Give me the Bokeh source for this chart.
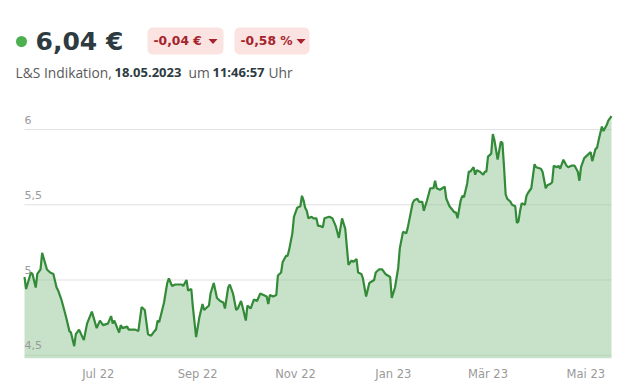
import pandas as pd
from bokeh.plotting import figure
from bokeh.layouts import column
from bokeh.models import ColumnDataSource, Range1d, FixedTicker
from bokeh.core.properties import value
from bokeh.embed import file_html
from bokeh.resources import INLINE

# ---------------- data ----------------
dates = [
    "2022-05-16", "2022-05-17", "2022-05-20", "2022-05-21", "2022-05-23", "2022-05-24", "2022-05-26", "2022-05-27", "2022-05-30",
    "2022-06-01", "2022-06-03", "2022-06-05", "2022-06-06", "2022-06-08", "2022-06-11", "2022-06-13", "2022-06-14", "2022-06-16",
    "2022-06-17", "2022-06-19", "2022-06-22", "2022-06-24", "2022-06-27", "2022-06-30",
    "2022-07-02", "2022-07-04", "2022-07-07", "2022-07-09", "2022-07-10", "2022-07-11", "2022-07-14", "2022-07-15", "2022-07-16",
    "2022-07-19", "2022-07-20", "2022-07-22", "2022-07-24", "2022-07-26", "2022-07-28", "2022-07-30",
    "2022-08-01", "2022-08-03", "2022-08-05", "2022-08-06", "2022-08-07", "2022-08-08", "2022-08-11", "2022-08-13", "2022-08-14",
    "2022-08-16", "2022-08-18", "2022-08-20", "2022-08-22", "2022-08-23", "2022-08-25", "2022-08-26", "2022-08-28", "2022-08-29",
    "2022-08-31",
    "2022-09-02", "2022-09-04", "2022-09-05", "2022-09-08", "2022-09-09", "2022-09-11", "2022-09-13", "2022-09-15", "2022-09-17",
    "2022-09-18", "2022-09-20", "2022-09-21", "2022-09-23", "2022-09-25", "2022-09-26", "2022-09-28", "2022-09-29",
    "2022-10-01", "2022-10-02", "2022-10-04", "2022-10-06", "2022-10-08", "2022-10-10", "2022-10-12", "2022-10-14", "2022-10-15",
    "2022-10-16", "2022-10-18", "2022-10-20", "2022-10-21", "2022-10-23", "2022-10-24", "2022-10-26", "2022-10-27", "2022-10-28",
    "2022-10-30", "2022-10-31",
    "2022-11-02", "2022-11-04", "2022-11-05", "2022-11-06", "2022-11-07", "2022-11-08", "2022-11-09", "2022-11-11", "2022-11-12",
    "2022-11-14", "2022-11-15", "2022-11-16", "2022-11-18", "2022-11-19", "2022-11-22", "2022-11-24", "2022-11-26", "2022-11-28",
    "2022-11-30",
    "2022-12-02", "2022-12-04", "2022-12-06", "2022-12-07", "2022-12-09", "2022-12-10", "2022-12-12", "2022-12-13", "2022-12-15",
    "2022-12-17", "2022-12-20", "2022-12-21", "2022-12-23", "2022-12-25", "2022-12-27", "2022-12-30", "2022-12-31",
    "2023-01-02", "2023-01-04", "2023-01-05", "2023-01-07", "2023-01-09", "2023-01-10", "2023-01-13", "2023-01-14", "2023-01-16",
    "2023-01-17", "2023-01-19", "2023-01-20", "2023-01-22", "2023-01-24", "2023-01-26", "2023-01-27", "2023-01-28", "2023-01-30",
    "2023-02-02", "2023-02-03", "2023-02-05", "2023-02-08", "2023-02-09", "2023-02-10", "2023-02-12", "2023-02-13", "2023-02-14",
    "2023-02-16", "2023-02-17", "2023-02-18", "2023-02-20", "2023-02-21", "2023-02-22", "2023-02-24", "2023-02-26", "2023-02-27",
    "2023-02-28",
    "2023-03-01", "2023-03-03", "2023-03-04", "2023-03-05", "2023-03-07", "2023-03-09", "2023-03-10", "2023-03-11", "2023-03-12",
    "2023-03-13", "2023-03-15", "2023-03-16", "2023-03-18", "2023-03-19", "2023-03-20", "2023-03-21", "2023-03-22", "2023-03-24",
    "2023-03-25", "2023-03-26", "2023-03-28", "2023-03-30", "2023-03-31",
    "2023-04-03", "2023-04-04", "2023-04-06", "2023-04-07", "2023-04-09", "2023-04-10", "2023-04-11", "2023-04-13", "2023-04-14",
    "2023-04-15", "2023-04-17", "2023-04-19", "2023-04-20", "2023-04-22", "2023-04-24", "2023-04-26", "2023-04-27", "2023-04-28",
    "2023-04-30",
    "2023-05-03", "2023-05-04", "2023-05-05", "2023-05-07", "2023-05-08", "2023-05-09", "2023-05-11", "2023-05-12", "2023-05-14",
    "2023-05-15", "2023-05-17",
]

prices = [
    5.02, 4.94, 5.05, 5.04, 4.95, 5.04, 5.07, 5.18, 5.07,
    5.05, 5.04, 4.95, 4.93, 4.87, 4.75, 4.66, 4.65, 4.56,
    4.64, 4.67, 4.60, 4.71, 4.79, 4.68,
    4.73, 4.70, 4.71, 4.76, 4.71, 4.73, 4.65, 4.70, 4.68,
    4.69, 4.67, 4.67, 4.67, 4.66, 4.82, 4.80,
    4.64, 4.63, 4.66, 4.67, 4.73, 4.72, 4.85, 4.98, 5.01,
    4.96, 4.97, 4.97, 4.97, 4.96, 5.00, 4.93, 4.94, 4.82,
    4.62,
    4.75, 4.84, 4.80, 4.83, 4.91, 4.98, 4.88, 4.86, 4.85,
    4.81, 4.95, 4.97, 4.91, 4.80, 4.81, 4.86, 4.82,
    4.73, 4.83, 4.81, 4.87, 4.86, 4.91, 4.90, 4.89, 4.84,
    4.90, 4.89, 4.90, 5.03, 5.05, 5.12, 5.16, 5.16, 5.20,
    5.31, 5.42,
    5.48, 5.49, 5.56, 5.53, 5.48, 5.46, 5.41, 5.42, 5.41,
    5.41, 5.36, 5.36, 5.35, 5.41, 5.42, 5.41, 5.36, 5.28,
    5.41,
    5.34, 5.10, 5.13, 5.12, 5.14, 5.05, 5.04, 5.01, 4.89,
    4.98, 5.00, 5.05, 5.07, 5.07, 5.04, 5.02, 4.88,
    4.95, 5.08, 5.21, 5.32, 5.31, 5.35, 5.51, 5.53, 5.54,
    5.52, 5.52, 5.46, 5.53, 5.61, 5.61, 5.66, 5.61, 5.60,
    5.62, 5.54, 5.49, 5.45, 5.45, 5.41, 5.53, 5.56, 5.55,
    5.64, 5.72, 5.72, 5.75, 5.70, 5.73, 5.72, 5.70, 5.72,
    5.72,
    5.82, 5.84, 5.97, 5.93, 5.80, 5.92, 5.91, 5.75, 5.57,
    5.54, 5.52, 5.50, 5.49, 5.38, 5.39, 5.46, 5.51, 5.50,
    5.56, 5.58, 5.61, 5.77, 5.75,
    5.74, 5.72, 5.61, 5.63, 5.64, 5.65, 5.76, 5.75, 5.76,
    5.74, 5.80, 5.76, 5.75, 5.76, 5.76, 5.72, 5.66, 5.75,
    5.81,
    5.84, 5.85, 5.79, 5.87, 5.88, 5.93, 6.02, 5.99, 6.03,
    6.06, 6.09,
]
assert len(dates) == len(prices)

y_ticks = [4.5, 5.0, 5.5, 6.0]
y_tick_labels = ["4,5", "5", "5,5", "6"]

x_tick_dates = ["2022-07-01", "2022-09-01", "2022-11-01", "2023-01-01", "2023-03-01", "2023-05-01"]
x_tick_labels = ["Jul 22", "Sep 22", "Nov 22", "Jan 23", "Mär 23", "Mai 23"]

price_text = "6,04 €"
change_texts = ["-0,04 €", "-0,58 %"]
sub_parts = ["L&S Indikation,", "18.05.2023", "um", "11:46:57", "Uhr"]
sub_bold = [False, True, False, True, False]

FONT = "DejaVu Sans"
SUB_FONT = "Open Sans"
W = 641

# ---------------- header figure (pixel coordinates) ----------------
HEAD_H = 95
head = figure(width=W, height=HEAD_H, x_range=Range1d(0, W), y_range=Range1d(HEAD_H, 0),
              output_backend="svg", toolbar_location=None, min_border=0,
              x_axis_location=None, y_axis_location=None)
head.grid.visible = False
head.outline_line_color = None
head.background_fill_color = "white"
head.border_fill_color = "white"

head.scatter(x=[21], y=[41], size=11, color="#4caf50", line_color=None)
head.text(x=[35], y=[41], text=[price_text], text_font=value(FONT), text_font_style="bold",
          text_font_size="25px", text_color="#2d3b41", text_baseline="alphabetic")

# change badges
badge_left = [147, 234]
badge_right = [223, 309]
head.quad(left=badge_left, right=badge_right, top=[27, 27], bottom=[54, 54],
          fill_color="#fbe3e1", line_color=None, border_radius=5)
head.text(x=[153, 240], y=[40.5, 40.5], text=change_texts, text_font=value(FONT),
          text_font_style="bold", text_font_size="12.3px", text_color="#a5232c", text_baseline="alphabetic")
tri_cx = [212.5, 300.5]
head.patches(xs=[[c - 4.5, c + 4.5, c] for c in tri_cx],
             ys=[[38.5, 38.5, 43.5] for _ in tri_cx],
             fill_color="#a5232c", line_color=None)

# subtitle
sub_x = [15, 114, 188, 212, 268]
for xx, t, b in zip(sub_x, sub_parts, sub_bold):
    head.text(x=[xx], y=[71.5], text=[t], text_font=value(SUB_FONT), text_font_style="bold" if b else "normal",
              text_font_size="13px" if b else "13.8px", text_color="#2d3b41" if b else "#5a5a5a",
              text_baseline="alphabetic")

# ---------------- chart figure ----------------
x = pd.to_datetime(dates)
x_end = pd.Timestamp("2023-05-17")
y_min = 4.478
src = ColumnDataSource(dict(x=x, y=prices, base=[y_min] * len(prices)))

LEFT, RIGHT = 24, 30          # pixel padding between canvas edge and data extent
span = x_end - x[0]
per_px = span / (W - LEFT - RIGHT)
CH_H = 389 - HEAD_H
p = figure(width=W, height=CH_H, x_axis_type="datetime",
           x_range=Range1d(x[0] - LEFT * per_px, x_end + RIGHT * per_px),
           y_range=Range1d(y_min, 6.2),
           output_backend="svg", toolbar_location=None, y_axis_location=None,
           min_border_left=0, min_border_right=0, min_border_top=4, min_border_bottom=31)
p.outline_line_color = None
p.background_fill_color = "white"
p.border_fill_color = "white"
p.grid.visible = False

# horizontal grid lines across the data extent
grid_src = ColumnDataSource(dict(x0=[x[0]] * len(y_ticks), x1=[x_end] * len(y_ticks), y=y_ticks))
p.segment(x0="x0", x1="x1", y0="y", y1="y", source=grid_src, line_color="#e0e0e0", line_width=1)

p.varea(x="x", y1="base", y2="y", source=src, fill_color="#8fc592", fill_alpha=0.5)
p.line(x="x", y="y", source=src, line_color="#338a38", line_width=2.2)

# y tick labels inside the plot, above the grid lines
ylab_src = ColumnDataSource(dict(x=[x[0]] * len(y_ticks), y=y_ticks, t=y_tick_labels))
p.text(x="x", y="y", text="t", source=ylab_src, text_font=value(FONT), text_font_size="11px",
       text_color="#9a9a9a", text_baseline="alphabetic", y_offset=-10)

tick_ms = [pd.Timestamp(d).value / 1e6 for d in x_tick_dates]
p.xaxis.ticker = FixedTicker(ticks=tick_ms)
p.xaxis.major_label_overrides = {ms: lab for ms, lab in zip(tick_ms, x_tick_labels)}
p.xaxis.axis_line_color = None
p.xaxis.major_tick_line_color = None
p.xaxis.minor_tick_line_color = None
p.xaxis.major_label_text_font = FONT
p.xaxis.major_label_text_font_size = "11.5px"
p.xaxis.major_label_text_color = "#9a9a9a"
p.xaxis.major_label_standoff = 2

layout = column(head, p, spacing=0)
open("out.html", "w").write(file_html(layout, INLINE))
